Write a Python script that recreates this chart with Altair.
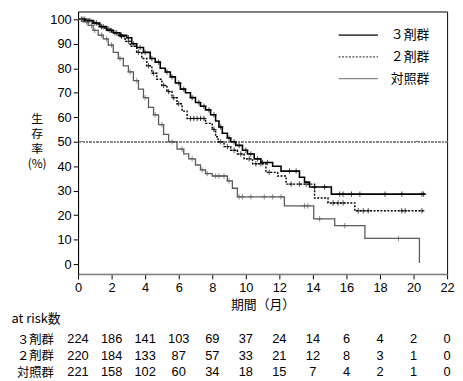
import altair as alt
import pandas as pd
import numpy as np

groups = ["３剤群", "２剤群", "対照群"]

# Kaplan-Meier step curves (time in months, survival %)
t3 = [0, 0.5, 0.9, 1.3, 1.7, 2.1, 2.5, 2.9, 3.2, 3.5, 3.9, 4.3, 4.6, 4.9, 5.2, 5.5, 5.8, 6.1, 6.4, 6.7,
      7.0, 7.3, 7.6, 7.9, 8.2, 8.4, 8.6, 8.9, 9.1, 9.4, 9.8, 10.1, 10.5, 10.9, 11.6, 12.1, 13.2, 13.5,
      13.8, 15.1, 20.7]
s3 = [100, 99.5, 98.5, 97, 95.5, 94.5, 93.5, 92.5, 90, 88.5, 86.5, 84, 82.5, 80, 78.5, 76.5, 74, 71.5,
      70, 68, 66, 64.5, 63, 61, 58.5, 56, 53.5, 51.5, 50, 48.5, 46.5, 45, 43, 41.5, 40, 38, 35.5, 33.5,
      31.5, 28.6, 28.6]

t2 = [0, 0.4, 0.8, 1.2, 1.6, 2.0, 2.4, 2.8, 3.1, 3.5, 3.8, 4.1, 4.4, 4.7, 5.0, 5.3, 5.6, 5.9, 6.2, 6.5,
      7.6, 8.0, 8.2, 8.35, 8.7, 9.1, 9.5, 9.9, 10.4, 11.2, 11.9, 12.4, 14.1, 14.9, 16.5, 20.6]
s2 = [100, 99.5, 98.5, 97, 96, 94.5, 93, 91, 89, 86.5, 84, 81, 78, 75.5, 73, 70.5, 68, 65.5, 62.5, 59.5,
      57.5, 55, 52, 50, 48, 46.5, 45, 43, 41, 37.5, 36, 32.7, 27, 25, 21.8, 21.8]

tc = [0, 0.3, 0.6, 0.9, 1.2, 1.5, 1.8, 2.1, 2.4, 2.7, 3.0, 3.3, 3.6, 3.9, 4.2, 4.5, 4.8, 5.1, 5.4, 5.9,
      6.3, 6.6, 7.0, 7.3, 7.6, 8.0, 8.9, 9.2, 9.5, 12.3, 14.05, 15.3, 17.1, 20.35]
sc = [100, 99, 97.5, 95.5, 93.5, 92, 89.5, 86.5, 84, 81, 78.5, 75, 71.5, 68, 64, 61, 57, 53, 50, 47,
      45, 43, 40.5, 38.5, 37, 36, 34, 31, 27.5, 23.8, 18.5, 15.7, 10.5, 0.5]

# censoring times
c3 = [0.2, 0.4, 0.7, 1.1, 1.5, 1.9, 2.3, 2.6, 3.0, 3.3, 3.7, 4.0, 4.4, 4.8, 5.3, 5.6, 6.0, 6.3, 6.8, 7.2,
      7.5, 7.8, 8.1, 8.5, 9.0, 9.3, 9.6, 10.0, 10.3, 10.7, 11.0, 11.3, 12.6, 13.0, 14.1, 14.7, 15.6,
      15.8, 16.3, 16.8, 18.3, 19.3, 20.5, 20.6]
c2 = [0.3, 0.6, 1.0, 1.4, 1.8, 2.2, 2.6, 3.0, 3.6, 4.2, 4.5, 5.1, 5.4, 5.7, 6.0, 6.7, 6.9, 7.1, 7.3, 7.5,
      8.1, 8.5, 8.9, 9.3, 9.7, 10.2, 10.6, 10.9, 11.4, 12.7, 13.2, 13.6, 15.2, 15.5, 15.8, 16.7, 17.0,
      17.3, 19.3, 19.5, 20.5]
cc = [0.2, 0.5, 0.8, 1.0, 1.4, 1.7, 2.0, 2.5, 3.1, 3.5, 4.0, 4.6, 5.0, 5.6, 6.2, 6.8, 7.4, 7.7, 8.2, 8.4,
      8.7, 9.0, 9.6, 9.8, 10.3, 11.1, 11.6, 12.1, 13.5, 13.7, 14.4, 15.9, 19.1]

# at-risk table
risk_times = [0, 2, 4, 6, 8, 10, 12, 14, 16, 18, 20, 22]
risk3 = [224, 186, 141, 103, 69, 37, 24, 14, 6, 4, 2, 0]
risk2 = [220, 184, 133, 87, 57, 33, 21, 12, 8, 3, 1, 0]
riskc = [221, 158, 102, 60, 34, 18, 15, 7, 4, 2, 1, 0]

line_colors = ["#000000", "#000000", "#5a5a5a"]

curves = [(t3, s3, c3), (t2, s2, c2), (tc, sc, cc)]
line_rows, cens_rows = [], []
for g, col, (tt, ss, cen) in zip(groups, line_colors, curves):
    for i, (a, b) in enumerate(zip(tt, ss)):
        line_rows.append({"group": g, "t": a, "s": b, "i": i})
    tt_a = np.array(tt)
    for c in cen:
        idx = np.searchsorted(tt_a, c, side="right") - 1
        cens_rows.append({"group": g, "t": c, "s": ss[idx], "col": col})
lines_df = pd.DataFrame(line_rows)
cens_df = pd.DataFrame(cens_rows)

risk_rows = []
for g, vals in zip(groups, [risk3, risk2, riskc]):
    for t, n in zip(risk_times, vals):
        risk_rows.append({"group": g, "t": t, "n": str(n)})
risk_df = pd.DataFrame(risk_rows)

LAT = "Liberation Sans"
CJK = "Noto Sans CJK JP"

xscale = alt.Scale(domain=[0, 22], nice=False)
yscale = alt.Scale(domain=[-4, 103.2], nice=False, zero=False)

x_axis = alt.Axis(
    values=list(range(0, 23, 2)), title="期間（月）", grid=False,
    domainColor="#808080", domainWidth=1.6, tickColor="#000000", tickSize=5,
    labelFontSize=13, labelFont=LAT, titleFontSize=13, labelPadding=3, titlePadding=4,
    labelFlush=False, labelOverlap=False, titleFont=CJK, titleFontWeight="normal")
y_axis = alt.Axis(
    values=list(range(0, 101, 10)), title=["生", "存", "率", "(%)"], titleAngle=0,
    titleX=-42, titleY=104, titleAlign="center", titleBaseline="top", titleLineHeight=15,
    titleFontSize=12, titleFontWeight="normal", titleFont=CJK, grid=False,
    domainColor="#000000", tickColor="#000000", tickSize=5, labelFontSize=13, labelFont=LAT,
    labelPadding=2, labelOverlap=False)

rule50 = alt.Chart(lines_df).mark_rule(strokeDash=[1.5, 2], color="#8a8a8a", strokeWidth=0.8).encode(
    y=alt.datum(50, scale=yscale, axis=y_axis)
)

lines = alt.Chart(lines_df).mark_line(interpolate="step-after").encode(
    x=alt.X("t:Q", scale=xscale, axis=x_axis),
    y=alt.Y("s:Q", scale=yscale, axis=y_axis),
    order="i:Q",
    color=alt.Color("group:N", sort=groups,
                    scale=alt.Scale(domain=groups, range=line_colors),
                    legend=alt.Legend(title=None, orient="none", legendX=273, legendY=13,
                                      symbolType="M-2,0L2,0", symbolSize=400,
                                      labelFontSize=13, labelFont=CJK, labelOffset=22,
                                      rowPadding=4)),
    strokeDash=alt.StrokeDash("group:N", sort=groups,
                              scale=alt.Scale(domain=groups, range=[[1, 0], [2, 1.5], [1, 0]])),
    strokeWidth=alt.StrokeWidth("group:N", sort=groups,
                                scale=alt.Scale(domain=groups, range=[1.6, 1.3, 1.0])),
)

cross = "M-1,0L1,0M0,-1L0,1"
cens = alt.Chart(cens_df).mark_point(shape=cross, filled=False, size=30, strokeWidth=1).encode(
    x=alt.X("t:Q", scale=xscale, axis=x_axis),
    y=alt.Y("s:Q", scale=yscale, axis=y_axis),
    color=alt.Color("col:N", scale=None),
)

main = alt.layer(rule50, lines, cens).properties(width=374, height=266)

table = alt.Chart(risk_df).mark_text(fontSize=13, font=LAT, align="center", baseline="middle",
                                     color="#000").encode(
    x=alt.X("t:Q", scale=xscale, axis=None),
    y=alt.Y("group:N", sort=groups, scale=alt.Scale(type="point", padding=0.5),
            axis=alt.Axis(title="at risk数", titleAngle=0, titleAlign="left", titleBaseline="middle",
                          titleX=-68, titleY=-12.7, titleFontSize=13, titleFontWeight="normal",
                          titleFont=CJK, domain=False, ticks=False, labelPadding=25,
                          labelFontSize=12.5, labelFont=CJK, labelColor="#000")),
    text="n:N",
).properties(width=374, height=50, view=alt.ViewBackground(stroke="transparent"))

chart = alt.vconcat(main, table, spacing=58, bounds="flush").properties(
    padding={"left": 2, "top": 0, "right": 0, "bottom": 0}
).configure_view(
    stroke="#000000", strokeWidth=1
).configure_axis(labelColor="#000", titleColor="#000", labelOverlap=False)

chart.save("out.html", embed_options={"renderer": "svg", "actions": False})
